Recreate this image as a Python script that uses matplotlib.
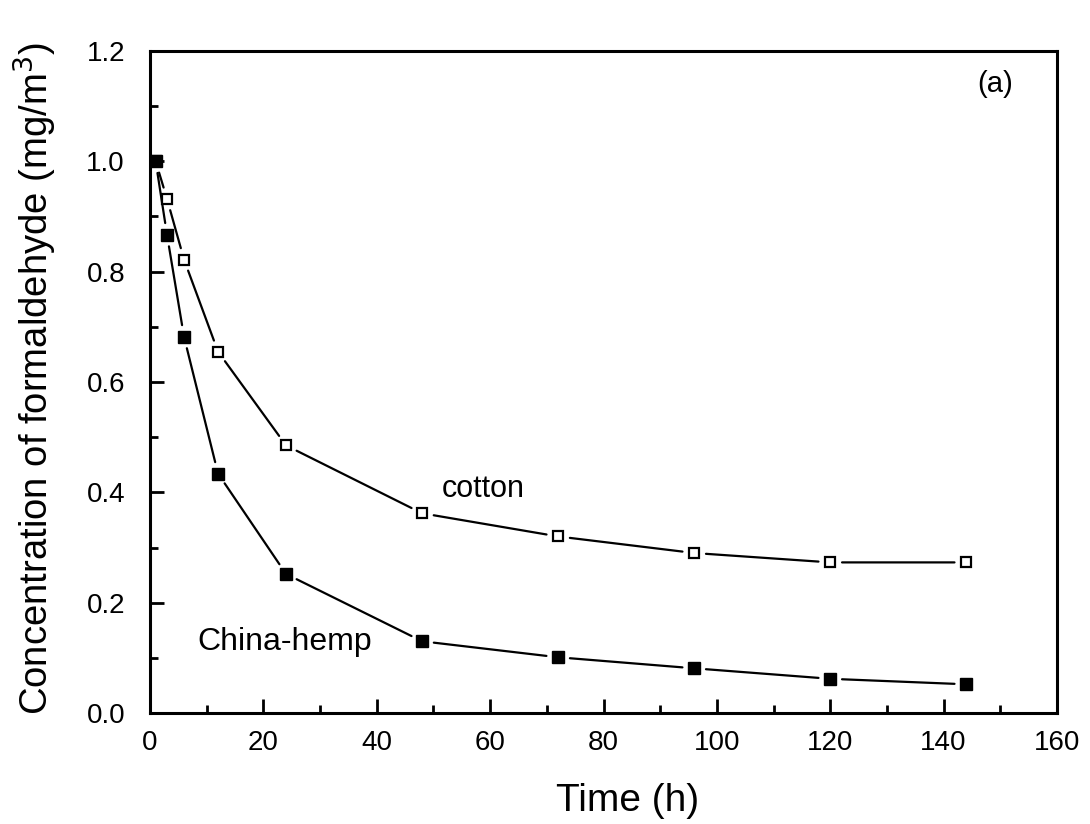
import matplotlib
matplotlib.use("Agg")
import matplotlib.pyplot as plt
from matplotlib.ticker import MultipleLocator, FormatStrFormatter

plt.rcParams['font.family'] = ['Liberation Sans', 'DejaVu Sans']

time_h = [1, 3, 6, 12, 24, 48, 72, 96, 120, 144]
cotton = [1.0, 0.932, 0.822, 0.655, 0.485, 0.362, 0.320, 0.290, 0.273, 0.273]
china_hemp = [1.0, 0.867, 0.682, 0.434, 0.252, 0.130, 0.101, 0.081, 0.062, 0.052]

fig = plt.figure(figsize=(10.9, 8.24), dpi=100)
ax = fig.add_axes([150/1090, 1 - 713/824, 907/1090, 662/824])

def gapped_line(x, y):
    for i in range(len(x) - 1):
        ax.annotate('', xy=(x[i+1], y[i+1]), xytext=(x[i], y[i]),
                    arrowprops=dict(arrowstyle='-', color='black', lw=1.6,
                                    shrinkA=8.5, shrinkB=8.5))

gapped_line(time_h, cotton)
gapped_line(time_h, china_hemp)
ax.plot(time_h, cotton, linestyle='none', marker='s', markersize=7.2,
        markerfacecolor='white', markeredgecolor='black', markeredgewidth=1.6, zorder=3)
ax.plot(time_h, china_hemp, linestyle='none', marker='s', markersize=8.6,
        markerfacecolor='black', markeredgecolor='black', zorder=4)

ax.set_xlim(0, 160)
ax.set_ylim(0, 1.2)
ax.xaxis.set_major_locator(MultipleLocator(20))
ax.xaxis.set_minor_locator(MultipleLocator(10))
ax.yaxis.set_major_locator(MultipleLocator(0.2))
ax.yaxis.set_minor_locator(MultipleLocator(0.1))
ax.yaxis.set_major_formatter(FormatStrFormatter('%.1f'))

ax.tick_params(which='both', direction='in', top=False, right=False, width=2, labelsize=20)
ax.tick_params(which='major', length=10)
ax.tick_params(axis='y', which='major', pad=18)
ax.tick_params(axis='x', which='major', pad=12)
ax.tick_params(which='minor', length=6)
for s in ax.spines.values():
    s.set_linewidth(2.2)

ax.set_xlabel('Time (h)', fontsize=28)
ax.xaxis.set_label_coords(0.526, -0.105)
ax.set_ylabel('Concentration of formaldehyde (mg/m$^3$)', fontsize=27.5)
ax.yaxis.set_label_coords(-0.1, 0.505)

ax.text(0.322, 0.326, 'cotton', transform=ax.transAxes, fontsize=22, va='baseline', ha='left')
ax.text(0.052, 0.095, 'China-hemp', transform=ax.transAxes, fontsize=23, va='baseline', ha='left')
ax.text(0.912, 0.938, '(a)', transform=ax.transAxes, fontsize=21, va='baseline', ha='left')

fig.savefig('out.png', dpi=100)
